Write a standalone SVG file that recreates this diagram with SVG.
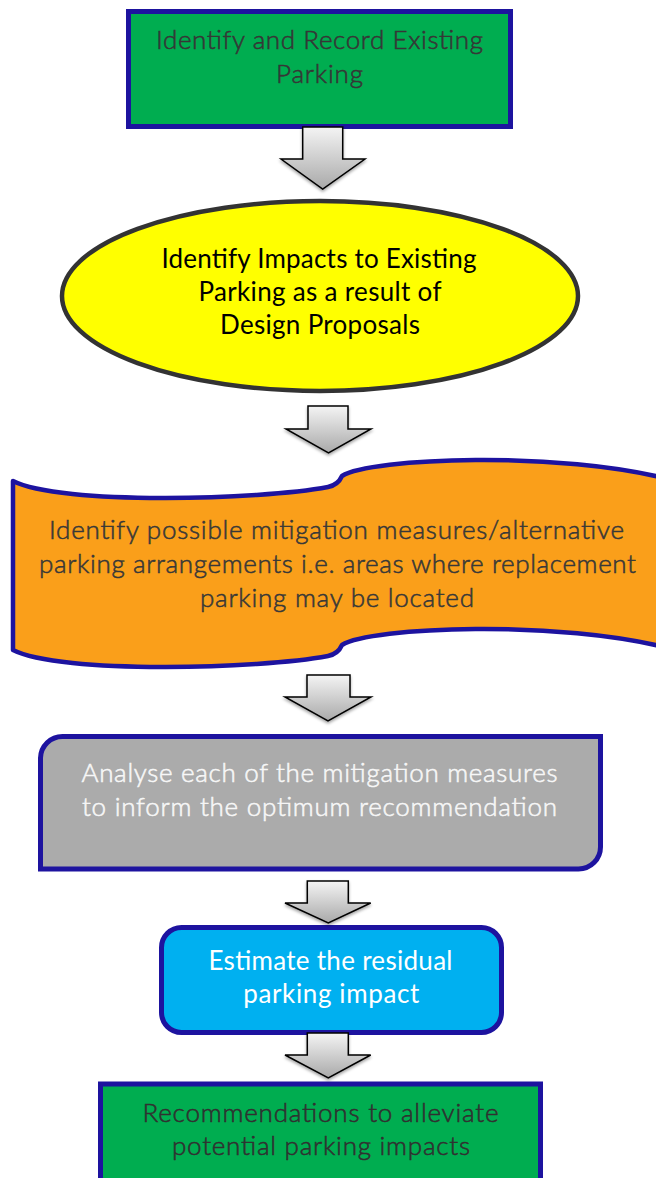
<svg xmlns="http://www.w3.org/2000/svg" width="656" height="1178" viewBox="0 0 656 1178">
<defs>
<linearGradient id="arrowGrad" x1="0" y1="0" x2="0" y2="1">
<stop offset="0" stop-color="#f4f4f4"/>
<stop offset="1" stop-color="#a9a9a9"/>
</linearGradient>
<filter id="shadow" x="-20%" y="-20%" width="140%" height="150%">
<feDropShadow dx="0" dy="2" stdDeviation="1.5" flood-color="#000" flood-opacity="0.35"/>
</filter>
<style>
.t{font-family:Lato,"Liberation Sans",sans-serif;font-size:26px;text-anchor:middle}
.l{font-weight:300;stroke-width:0.55}
.blue{stroke:#1d139f;stroke-width:5}
.arrow{fill:url(#arrowGrad);stroke:#000;stroke-width:1.5;stroke-linejoin:miter;filter:url(#shadow)}
</style>
</defs>
<rect width="656" height="1178" fill="#fff"/>

<g id="node1">
<rect x="128.5" y="11.5" width="382" height="115" fill="#00ad50" class="blue"/>
<text class="t l" fill="#363636" stroke="#363636" x="319.5" y="49" textLength="327">Identify and Record Existing</text>
<text class="t l" fill="#363636" stroke="#363636" x="319.5" y="83" textLength="87">Parking</text>
</g>

<g id="node2">
<ellipse cx="320" cy="296" rx="258" ry="95" fill="#ffff00" stroke="#333" stroke-width="4.5"/>
<text class="t" fill="#000" x="319" y="268" textLength="315">Identify Impacts to Existing</text>
<text class="t" fill="#000" x="320" y="301" textLength="243">Parking as a result of</text>
<text class="t" fill="#000" x="320" y="334" textLength="200">Design Proposals</text>
</g>

<g id="node3">
<path d="M13,481 C60,505 260,500 328,487 Q338,485 342,476 C370,458 560,450 672,480 L672,649 C560,619 370,627 342,645 Q338,654 328,656 C260,669 60,674 13,650 Z" fill="#fa9f1a" stroke="#1d139f" stroke-width="4.5" stroke-linejoin="round"/>
<text class="t l" fill="#383838" stroke="#383838" x="336.5" y="539" textLength="575">Identify possible mitigation measures/alternative</text>
<text class="t l" fill="#383838" stroke="#383838" x="337.5" y="573" textLength="597">parking arrangements i.e. areas where replacement</text>
<text class="t l" fill="#383838" stroke="#383838" x="337" y="607" textLength="274">parking may be located</text>
</g>

<g id="node4">
<path d="M40.5,758 A22,22 0 0 1 62.5,736.5 L600.5,736.5 L600.5,847 A22,22 0 0 1 578.5,869 L40.5,869 Z" fill="#ababab" class="blue"/>
<text class="t l" fill="#f7f7f7" stroke="#f7f7f7" x="319.5" y="782" textLength="476">Analyse each of the mitigation measures</text>
<text class="t l" fill="#f7f7f7" stroke="#f7f7f7" x="319.5" y="816" textLength="475">to inform the optimum recommendation</text>
</g>

<g id="node5">
<rect x="161.5" y="927.5" width="340" height="105" rx="20" fill="#00b0f0" class="blue"/>
<text class="t" fill="#fff" x="330.5" y="970" textLength="244">Estimate the residual</text>
<text class="t" fill="#fff" x="331.3" y="1003" textLength="176">parking impact</text>
</g>

<g id="node6">
<rect x="100.5" y="1084" width="440" height="120" fill="#00ad50" class="blue"/>
<text class="t l" fill="#303030" stroke="#303030" x="320.5" y="1122" textLength="356">Recommendations to alleviate</text>
<text class="t l" fill="#303030" stroke="#303030" x="321" y="1155" textLength="298">potential parking impacts</text>
</g>

<g id="connectors">
<path class="arrow" d="M302.7,127 L342.7,127 L342.7,159 L365,159 L322.7,189 L281,159 L302.7,159 Z"/>
<path class="arrow" d="M308,406 L348,406 L348,429 L371,429 L328.5,453 L286,429 L308,429 Z"/>
<path class="arrow" d="M307,675 L350,675 L350,697 L371,697 L328,721 L285,697 L307,697 Z"/>
<path class="arrow" d="M307.3,881 L348.3,881 L348.3,903 L370.7,903 L328.3,923 L285,903 L307.3,903 Z"/>
<path class="arrow" d="M307.3,1033 L348.3,1033 L348.3,1055 L370.7,1055 L328.3,1078 L285,1055 L307.3,1055 Z"/>
</g>
</svg>
